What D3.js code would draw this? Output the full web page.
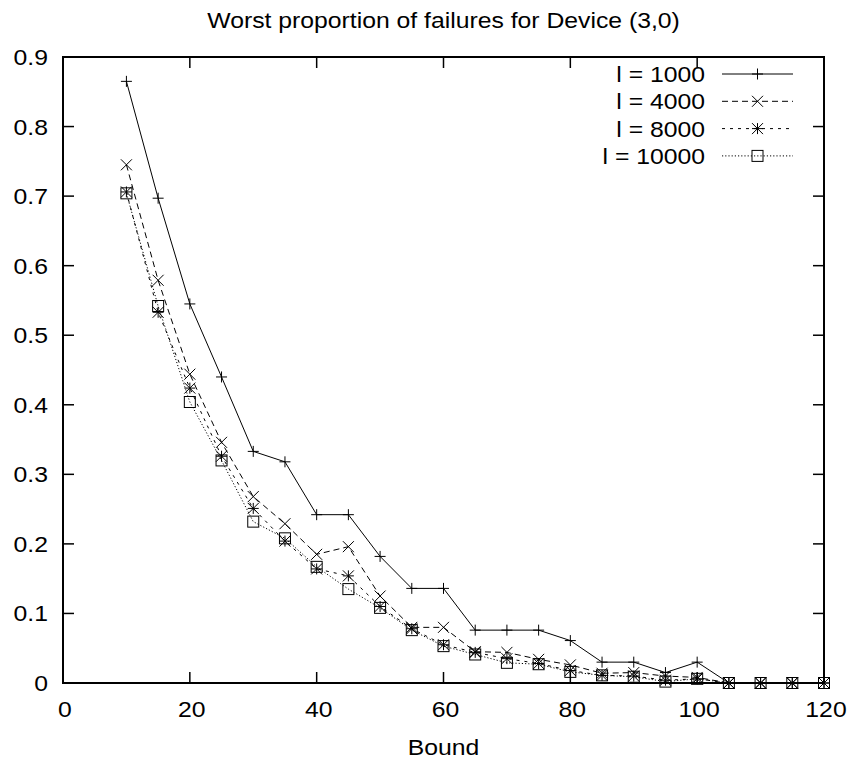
<!DOCTYPE html>
<html><head><meta charset="utf-8">
<script src="https://cdn.jsdelivr.net/npm/d3@7"></script>
<style>body{margin:0;background:#fff;} text{font-family:"Liberation Sans",Arial,sans-serif;fill:#000;}</style>
</head><body>
<svg id="c" width="853" height="762"></svg>
<script>
const bounds = [10,15,20,25,30,35,40,45,50,55,60,65,70,75,80,85,90,95,100,105,110,115,120];
const l1000  = [0.865,0.697,0.545,0.440,0.333,0.318,0.242,0.242,0.182,0.136,0.136,0.076,0.076,0.076,0.061,0.030,0.030,0.015,0.030,0,0,0,0];
const l4000  = [0.745,0.579,0.444,0.346,0.268,0.229,0.185,0.196,0.125,0.080,0.080,0.045,0.044,0.034,0.026,0.014,0.015,0.010,0.008,0,0,0,0];
const l8000  = [0.706,0.533,0.424,0.326,0.251,0.204,0.164,0.154,0.110,0.078,0.055,0.044,0.035,0.028,0.018,0.011,0.010,0.004,0.006,0,0,0,0];
const l10000 = [0.704,0.542,0.404,0.320,0.232,0.208,0.167,0.135,0.108,0.076,0.053,0.041,0.029,0.027,0.016,0.011,0.009,0.002,0.006,0,0,0,0];
const seriesNames = ["l = 1000","l = 4000","l = 8000","l = 10000"];
const xTicks = [0,20,40,60,80,100,120];
const yTicks = [0,0.1,0.2,0.3,0.4,0.5,0.6,0.7,0.8,0.9];
const titleText = "Worst proportion of failures for Device (3,0)";
const xLabel = "Bound";

const svg = d3.select("#c");
const L=63, R=824, T=57, B=683;
const x = d3.scaleLinear().domain([0,120]).range([L,R]);
const y = d3.scaleLinear().domain([0,0.9]).range([B,T]);
const fs = 22.5;
const sx = 1.1;
const tickLen = 11;

function txt(px, py, s, anchor, size){
  return svg.append("text").attr("transform",`translate(${px},${py}) scale(${sx},1)`)
    .attr("text-anchor",anchor).attr("font-size",size).text(s);
}

const series = [
  {name:seriesNames[0], vals:l1000, dash:null, sym:"plus"},
  {name:seriesNames[1], vals:l4000, dash:"6,4", sym:"x"},
  {name:seriesNames[2], vals:l8000, dash:"3,5", sym:"star"},
  {name:seriesNames[3], vals:l10000, dash:"1.2,2", sym:"square"}
];

function sym(g, type, cx, cy){
  const s=5.5;
  if(type==="plus"||type==="star"){
    g.append("path").attr("d",`M${cx-s},${cy}H${cx+s}M${cx},${cy-s}V${cy+s}`).attr("stroke","#000").attr("stroke-width",1).attr("fill","none");
  }
  if(type==="x"||type==="star"){
    g.append("path").attr("d",`M${cx-s},${cy-s}L${cx+s},${cy+s}M${cx-s},${cy+s}L${cx+s},${cy-s}`).attr("stroke","#000").attr("stroke-width",1).attr("fill","none");
  }
  if(type==="square"){
    g.append("rect").attr("x",cx-s).attr("y",cy-s).attr("width",2*s).attr("height",2*s).attr("stroke","#000").attr("stroke-width",1).attr("fill","none");
  }
}

// axes ticks (mirrored)
const ax = svg.append("g");
xTicks.forEach(t=>{
  if(t>0 && t<120){
    ax.append("line").attr("x1",x(t)).attr("x2",x(t)).attr("y1",B).attr("y2",B-tickLen).attr("stroke","#000").attr("stroke-width",1.5);
    ax.append("line").attr("x1",x(t)).attr("x2",x(t)).attr("y1",T).attr("y2",T+tickLen).attr("stroke","#000").attr("stroke-width",1.5);
  }
  txt(x(t)+2, 717, t, "middle", fs);
});
yTicks.forEach(t=>{
  if(t>0 && t<0.9){
    ax.append("line").attr("x1",L).attr("x2",L+tickLen).attr("y1",y(t)).attr("y2",y(t)).attr("stroke","#000").attr("stroke-width",1.5);
    ax.append("line").attr("x1",R).attr("x2",R-tickLen).attr("y1",y(t)).attr("y2",y(t)).attr("stroke","#000").attr("stroke-width",1.5);
  }
  txt(48, y(t)+8, d3.format(".1~f")(t), "end", fs);
});

// data
const line = d3.line().x(d=>x(d[0])).y(d=>y(d[1]));
series.forEach(s=>{
  const pts = bounds.map((b,i)=>[b,s.vals[i]]);
  svg.append("path").attr("d",line(pts)).attr("fill","none").attr("stroke","#000").attr("stroke-width",1)
     .attr("stroke-dasharray",s.dash);
  const g = svg.append("g");
  pts.forEach(p=>sym(g,s.sym,x(p[0]),y(p[1])));
});

// frame
svg.append("rect").attr("x",L).attr("y",T).attr("width",R-L).attr("height",B-T).attr("fill","none").attr("stroke","#000").attr("stroke-width",2);

// legend
series.forEach((s,i)=>{
  const cy = 74 + i*27.3;
  txt(705, cy+8, s.name, "end", fs);
  svg.append("line").attr("x1",722).attr("x2",793).attr("y1",cy).attr("y2",cy).attr("stroke","#000").attr("stroke-width",1).attr("stroke-dasharray",s.dash);
  sym(svg.append("g"), s.sym, 757.5, cy);
});

// title and label
txt((L+R)/2, 28, titleText, "middle", 22.5);
txt((L+R)/2, 755, xLabel, "middle", fs);
</script>
</body></html>
